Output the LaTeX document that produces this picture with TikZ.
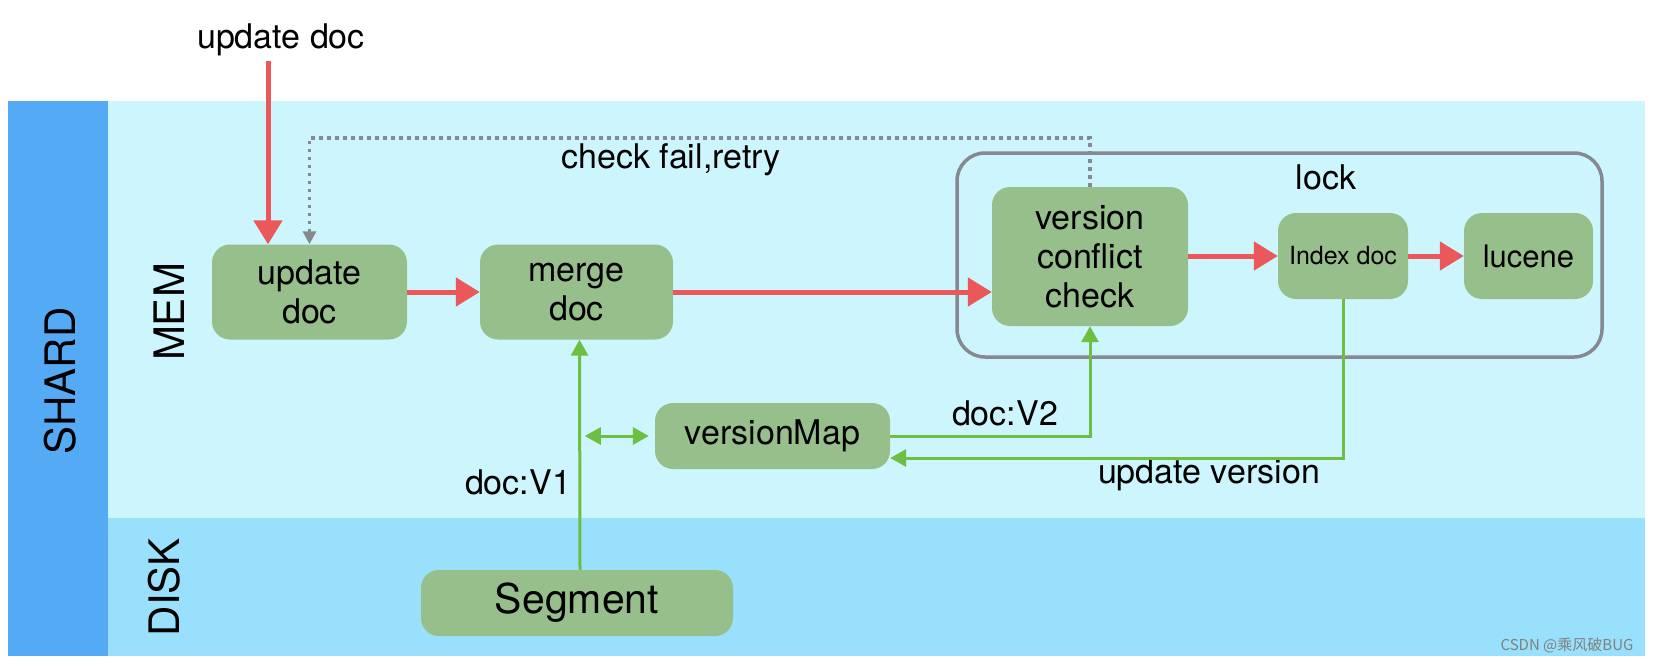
\documentclass[tikz,border=0pt]{standalone}
\usepackage{fontspec}
\setmainfont{TeX Gyre Heros}
\newfontfamily\cjk{Noto Sans CJK SC}
\usetikzlibrary{arrows.meta}
\definecolor{shardblue}{HTML}{55AAF6}
\definecolor{memcyan}{HTML}{CCF5FD}
\definecolor{diskblue}{HTML}{99E0FC}
\definecolor{boxgreen}{HTML}{97BF8B}
\definecolor{redline}{HTML}{EA585A}
\definecolor{greenline}{HTML}{6CBF40}
\definecolor{greyline}{HTML}{868990}
\newcommand{\lblfont}{\fontsize{34}{39}\selectfont}
\tikzset{
  box/.style={fill=boxgreen, rounded corners=18pt, inner sep=0pt, align=center, font=\lblfont},
  lbl/.style={inner sep=0pt, font=\lblfont},
  side/.style={inner sep=0pt, rotate=90, font=\fontsize{42}{46}\selectfont},
  redarrow/.style={draw=redline, line width=5pt, -{Triangle[length=24pt,width=28pt]}},
  greenarrow/.style={draw=greenline, line width=3pt, -{Triangle[length=16pt,width=17pt]}},
  retryline/.style={draw=greyline, line width=3.5pt, dash pattern=on 3.5pt off 4.5pt, -{Triangle[length=13pt,width=13pt]}}
}
\begin{document}
\begin{tikzpicture}[x=1pt, y=-1pt]
  \useasboundingbox[fill=white] (0,0) rectangle (1659,666);
  \fill[shardblue] (8,101) rectangle (108,656);
  \fill[memcyan] (108,101) rectangle (1645,518);
  \fill[diskblue] (108,518) rectangle (1645,656);
  \node[side] (shard) at (60,381) {SHARD};
  \node[side] (mem) at (169,312) {MEM};
  \node[side] (disk) at (164,587) {DISK};

  \draw[greyline, line width=3.5pt, rounded corners=28pt] (957,153) rectangle (1602,357);
  \node[lbl] (lock) at (1326,177) {lock};

  \node[box, minimum width=195pt, minimum height=95pt] (upd) at (309.5,292) {update\\doc};
  \node[box, minimum width=193pt, minimum height=95pt] (merge) at (576.5,292) {merge\\doc};
  \node[box, minimum width=196pt, minimum height=139pt] (vcc) at (1090,256.5) {version\\conflict\\check};
  \node[box, minimum width=130pt, minimum height=86pt, font=\fontsize{25}{30}\selectfont] (idx) at (1343,256) {Index doc};
  \node[box, minimum width=129pt, minimum height=86pt, font=\fontsize{31}{36}\selectfont] (luc) at (1528.5,256) {lucene};
  \node[box, minimum width=235pt, minimum height=66pt] (vmap) at (772.5,436) {versionMap};
  \node[box, minimum width=312pt, minimum height=66pt, font=\fontsize{41}{46}\selectfont] (seg) at (577,603) {Segment};

  \node[lbl] (updin) at (281,40) {update doc};
  \node[lbl] (retrylbl) at (671,160) {check fail,retry};
  \node[lbl] (v1lbl) at (518,482) {doc:V1};
  \node[lbl] (v2lbl) at (1005,413) {doc:V2};
  \node[lbl] (uvlbl) at (1209,475) {update version};
  \node[inner sep=0pt, text=gray, font=\cjk\fontsize{15}{18}\selectfont] (mark) at (1567,645) {CSDN @乘风破BUG};

  \coordinate (in) at (268,61);
  \coordinate (retry) at (0,138);
  \draw[redarrow] (in) -- (in |- upd.north);
  \draw[retryline] (vcc.north) -- (vcc.north |- retry) -| (upd.north);
  \draw[redarrow] (upd) -- (merge);
  \draw[redarrow] (merge.east) -- (merge.east -| vcc.west);
  \draw[redarrow] (vcc.east |- idx) -- (idx);
  \draw[redarrow] (idx) -- (luc);
  \draw[greenarrow] ([xshift=3pt]seg.north) -- ([xshift=3pt]merge.south);
  \draw[greenarrow, {Triangle[length=16pt,width=17pt]}-{Triangle[length=16pt,width=17pt]}] ([xshift=-70pt]vmap.west) -- ([xshift=-6pt]vmap.west);
  \draw[greenarrow] (vmap.east) -| (vcc.south);
  \draw[greenarrow] (idx.south) |- ([yshift=-22pt]vmap.east);
\end{tikzpicture}
\end{document}
